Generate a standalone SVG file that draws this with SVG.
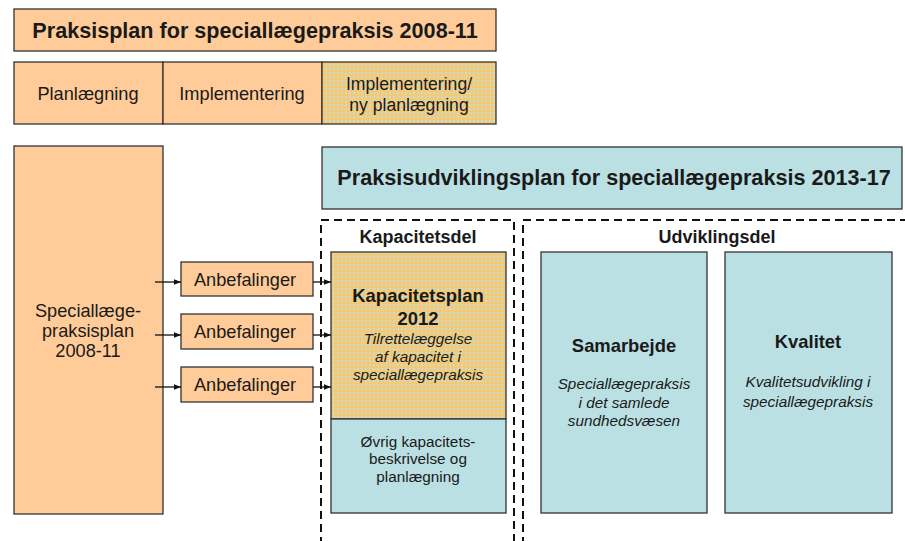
<svg xmlns="http://www.w3.org/2000/svg" width="905" height="541" viewBox="0 0 905 541">
<defs>
<pattern id="chk" width="4" height="4" patternUnits="userSpaceOnUse">
<rect width="4" height="4" fill="#FDC765"/>
<rect x="1" y="0" width="2" height="2.5" fill="#BEDDE0"/>
</pattern>
<marker id="ah" viewBox="0 0 10 10" refX="10" refY="5" markerWidth="7" markerHeight="7" orient="auto" markerUnits="userSpaceOnUse">
<path d="M0,1 L10,5 L0,9 z" fill="#111"/>
</marker>
<style>
.or{fill:#FFCC99;stroke:#333;stroke-width:1.3}
.te{fill:#BBE0E3;stroke:#333;stroke-width:1.3}
.pt{fill:url(#chk);stroke:#333;stroke-width:1.3}
.dash{fill:none;stroke:#111;stroke-width:2;stroke-dasharray:8,5}
text{font-family:"Liberation Sans",Arial,sans-serif;fill:#1a1a1a;text-anchor:middle}
.b{font-weight:bold}
.i{font-style:italic}
.c{stroke:#111;stroke-width:1.3;fill:none;marker-end:url(#ah)}
</style>
</defs>
<rect width="905" height="541" fill="#fff"/>

<g id="title1">
<rect class="or" x="14" y="9" width="482" height="42"/>
<text class="b" x="255" y="38" font-size="21.6">Praksisplan for speciallægepraksis 2008-11</text>
</g>
<g id="planlaegning">
<rect class="or" x="14" y="62" width="149" height="62"/>
<text x="88" y="100" font-size="18.2">Planlægning</text>
</g>
<g id="implementering">
<rect class="or" x="163" y="62" width="159" height="62"/>
<text x="242" y="100" font-size="18.2">Implementering</text>
</g>
<g id="implementering2">
<rect class="pt" x="322" y="62" width="174" height="62"/>
<text x="409" y="90" font-size="17.6">Implementering/</text>
<text x="409" y="111" font-size="17.6">ny planlægning</text>
</g>

<g id="speciallaegepraksisplan">
<rect class="or" x="14" y="146" width="149" height="368"/>
<text x="88" y="317" font-size="18.2">Speciallæge-</text>
<text x="88" y="337" font-size="18.2">praksisplan</text>
<text x="88" y="357" font-size="18.2">2008-11</text>
</g>

<g id="anbefalinger1">
<rect class="or" x="181" y="262" width="132" height="34"/>
<text x="245" y="286" font-size="18.2">Anbefalinger</text>
</g>
<g id="anbefalinger2">
<rect class="or" x="181" y="314" width="132" height="35"/>
<text x="245" y="338" font-size="18.2">Anbefalinger</text>
</g>
<g id="anbefalinger3">
<rect class="or" x="181" y="367" width="132" height="35"/>
<text x="245" y="391" font-size="18.2">Anbefalinger</text>
</g>

<g id="title2">
<rect class="te" x="322" y="147" width="580" height="62"/>
<text class="b" x="614" y="185" font-size="21.6">Praksisudviklingsplan for speciallægepraksis 2013-17</text>
</g>

<g id="kapacitetsdel">
<path class="dash" d="M321,545 V220 H514 V545"/>
<text class="b" x="418" y="243" font-size="18">Kapacitetsdel</text>
</g>
<g id="udviklingsdel">
<path class="dash" d="M523,545 V220 H910"/>
<text class="b" x="717" y="243" font-size="18">Udviklingsdel</text>
</g>

<g id="kapacitetsplan">
<rect class="pt" x="331" y="252" width="175" height="167"/>
<text class="b" x="418" y="302" font-size="18.5">Kapacitetsplan</text>
<text class="b" x="418" y="325" font-size="18.5">2012</text>
<text class="i" x="418" y="344" font-size="15.3">Tilrettelæggelse</text>
<text class="i" x="418" y="362" font-size="15.3">af kapacitet i</text>
<text class="i" x="418" y="380" font-size="15.3">speciallægepraksis</text>
</g>
<g id="oevrig">
<rect class="te" x="331" y="419" width="175" height="94"/>
<text x="418" y="447" font-size="15.3">Øvrig kapacitets-</text>
<text x="418" y="464" font-size="15.3">beskrivelse og</text>
<text x="418" y="482" font-size="15.3">planlægning</text>
</g>

<g id="samarbejde">
<rect class="te" x="541" y="252" width="166" height="261"/>
<text class="b" x="624" y="352" font-size="18.4">Samarbejde</text>
<text class="i" x="624" y="389" font-size="15.3">Speciallægepraksis</text>
<text class="i" x="624" y="408" font-size="15.3">i det samlede</text>
<text class="i" x="624" y="426" font-size="15.3">sundhedsvæsen</text>
</g>
<g id="kvalitet">
<rect class="te" x="725" y="252" width="167" height="261"/>
<text class="b" x="808" y="348" font-size="18.4">Kvalitet</text>
<text class="i" x="808" y="387" font-size="15.3">Kvalitetsudvikling i</text>
<text class="i" x="808" y="407" font-size="15.3">speciallægepraksis</text>
</g>

<g id="connectors">
<line class="c" x1="155" y1="282" x2="181" y2="282"/>
<line class="c" x1="155" y1="335" x2="181" y2="335"/>
<line class="c" x1="155" y1="387" x2="181" y2="387"/>
<line class="c" x1="313" y1="282" x2="331" y2="282"/>
<line class="c" x1="313" y1="335" x2="331" y2="335"/>
<line class="c" x1="313" y1="387" x2="331" y2="387"/>
</g>
</svg>
